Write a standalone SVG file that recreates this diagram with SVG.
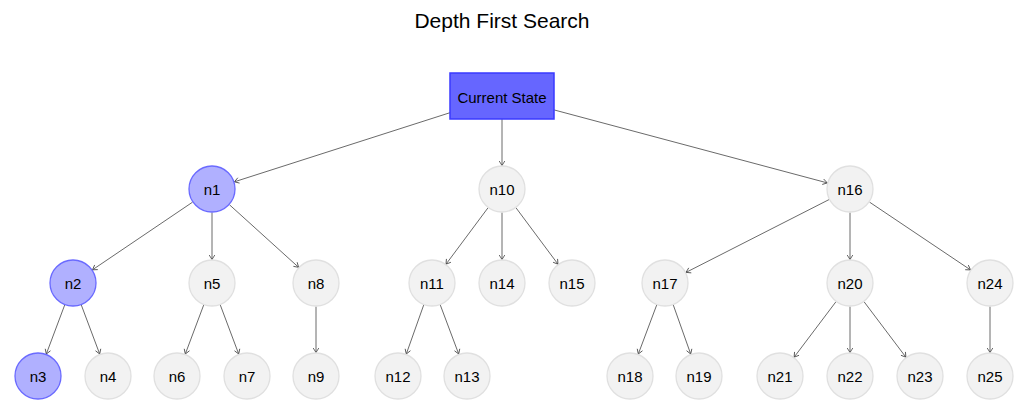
<svg xmlns="http://www.w3.org/2000/svg" width="1024" height="409" viewBox="0 0 1024 409">
<defs>
<marker id="arr" markerUnits="userSpaceOnUse" markerWidth="10" markerHeight="10" viewBox="-6 -5 8 10" refX="0" refY="0" orient="auto">
<path d="M-4.5,-2.8 L0,0 L-4.5,2.8" fill="none" stroke="#444" stroke-width="0.8"/>
</marker>
</defs>
<style>
text{font-family:"Liberation Sans","DejaVu Sans",sans-serif;fill:#000;text-anchor:middle;dominant-baseline:central}
.lbl{font-size:15px}
.title{font-size:21px}
.g{fill:#f2f2f2;stroke:#e0e0e0;stroke-width:1.3}
.b{fill:#b0b0ff;stroke:#6a6aff;stroke-width:1.3}
.e line{stroke:#444;stroke-width:0.8;marker-end:url(#arr)}
</style>
<rect width="1024" height="409" fill="#fff"/>
<text class="title" x="502" y="20">Depth First Search</text>
<g id="connectors" class="e">
<line x1="450" y1="112.7" x2="234.4" y2="181.8"/>
<line x1="502" y1="119" x2="502" y2="165.5"/>
<line x1="554" y1="109.9" x2="827.3" y2="182.9"/>
<line x1="192.5" y1="202.2" x2="92.5" y2="269.8"/>
<line x1="212" y1="212.5" x2="212" y2="259.5"/>
<line x1="229.4" y1="204.7" x2="298.6" y2="267.3"/>
<line x1="488" y1="207.8" x2="446" y2="264.2"/>
<line x1="502" y1="212.5" x2="502" y2="259.5"/>
<line x1="516" y1="207.8" x2="558" y2="264.2"/>
<line x1="829" y1="199.6" x2="686" y2="272.4"/>
<line x1="850" y1="212.5" x2="850" y2="259.5"/>
<line x1="869.5" y1="202.1" x2="970.5" y2="269.9"/>
<line x1="64.7" y1="305" x2="46.3" y2="354"/>
<line x1="81.3" y1="305" x2="99.7" y2="354"/>
<line x1="203.7" y1="305" x2="185.3" y2="354"/>
<line x1="220.3" y1="305" x2="238.7" y2="354"/>
<line x1="316" y1="306.5" x2="316" y2="352.5"/>
<line x1="423.7" y1="305" x2="406.3" y2="354"/>
<line x1="440.3" y1="305" x2="458.7" y2="354"/>
<line x1="656.7" y1="305" x2="638.3" y2="354"/>
<line x1="673.3" y1="305" x2="690.7" y2="354"/>
<line x1="835.9" y1="301.8" x2="794.1" y2="357.2"/>
<line x1="850" y1="306.5" x2="850" y2="352.5"/>
<line x1="864.1" y1="301.8" x2="905.9" y2="357.2"/>
<line x1="990" y1="306.5" x2="990" y2="352.5"/>
</g>
<g id="current"><rect x="450" y="73" width="104" height="46" fill="#6666ff" stroke="#3a3aff" stroke-width="1.5"/><text class="lbl" x="502" y="97">Current State</text></g>
<g id="n1"><circle class="b" cx="212" cy="189" r="23"/><text class="lbl" x="212" y="189">n1</text></g>
<g id="n10"><circle class="g" cx="502" cy="189" r="23"/><text class="lbl" x="502" y="189">n10</text></g>
<g id="n16"><circle class="g" cx="850" cy="189" r="23"/><text class="lbl" x="850" y="189">n16</text></g>
<g id="n2"><circle class="b" cx="73" cy="283" r="23"/><text class="lbl" x="73" y="283">n2</text></g>
<g id="n5"><circle class="g" cx="212" cy="283" r="23"/><text class="lbl" x="212" y="283">n5</text></g>
<g id="n8"><circle class="g" cx="316" cy="283" r="23"/><text class="lbl" x="316" y="283">n8</text></g>
<g id="n11"><circle class="g" cx="432" cy="283" r="23"/><text class="lbl" x="432" y="283">n11</text></g>
<g id="n14"><circle class="g" cx="502" cy="283" r="23"/><text class="lbl" x="502" y="283">n14</text></g>
<g id="n15"><circle class="g" cx="572" cy="283" r="23"/><text class="lbl" x="572" y="283">n15</text></g>
<g id="n17"><circle class="g" cx="665" cy="283" r="23"/><text class="lbl" x="665" y="283">n17</text></g>
<g id="n20"><circle class="g" cx="850" cy="283" r="23"/><text class="lbl" x="850" y="283">n20</text></g>
<g id="n24"><circle class="g" cx="990" cy="283" r="23"/><text class="lbl" x="990" y="283">n24</text></g>
<g id="n3"><circle class="b" cx="38" cy="376" r="23"/><text class="lbl" x="38" y="376">n3</text></g>
<g id="n4"><circle class="g" cx="108" cy="376" r="23"/><text class="lbl" x="108" y="376">n4</text></g>
<g id="n6"><circle class="g" cx="177" cy="376" r="23"/><text class="lbl" x="177" y="376">n6</text></g>
<g id="n7"><circle class="g" cx="247" cy="376" r="23"/><text class="lbl" x="247" y="376">n7</text></g>
<g id="n9"><circle class="g" cx="316" cy="376" r="23"/><text class="lbl" x="316" y="376">n9</text></g>
<g id="n12"><circle class="g" cx="398" cy="376" r="23"/><text class="lbl" x="398" y="376">n12</text></g>
<g id="n13"><circle class="g" cx="467" cy="376" r="23"/><text class="lbl" x="467" y="376">n13</text></g>
<g id="n18"><circle class="g" cx="630" cy="376" r="23"/><text class="lbl" x="630" y="376">n18</text></g>
<g id="n19"><circle class="g" cx="699" cy="376" r="23"/><text class="lbl" x="699" y="376">n19</text></g>
<g id="n21"><circle class="g" cx="780" cy="376" r="23"/><text class="lbl" x="780" y="376">n21</text></g>
<g id="n22"><circle class="g" cx="850" cy="376" r="23"/><text class="lbl" x="850" y="376">n22</text></g>
<g id="n23"><circle class="g" cx="920" cy="376" r="23"/><text class="lbl" x="920" y="376">n23</text></g>
<g id="n25"><circle class="g" cx="990" cy="376" r="23"/><text class="lbl" x="990" y="376">n25</text></g>
</svg>
